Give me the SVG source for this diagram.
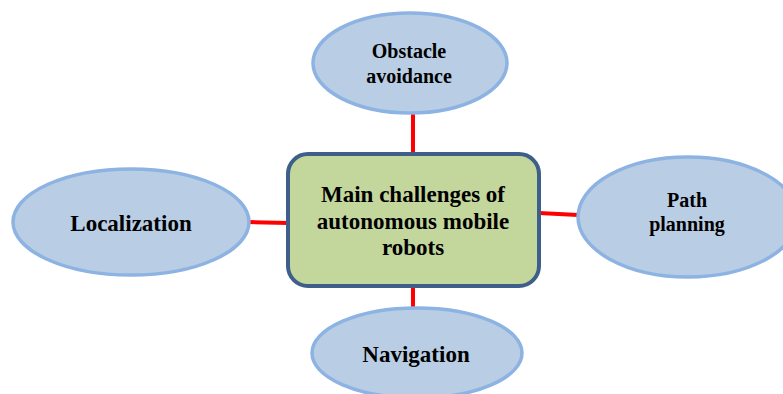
<svg xmlns="http://www.w3.org/2000/svg" width="783" height="394" viewBox="0 0 783 394">
<style>
.ell{fill:#b9cde5;stroke:#8db3e2;stroke-width:3.5}
.box{fill:#c3d69b;stroke:#3e5f8a;stroke-width:4}
.con{stroke:#ff0000;stroke-width:4;fill:none}
text{font-family:"Liberation Serif","Times New Roman",serif;font-weight:bold;fill:#000;text-anchor:middle}
.t20{font-size:20px}
.t23{font-size:23px}
</style>
<rect width="783" height="394" fill="#ffffff"/>
<g id="connectors">
<line class="con" x1="413" y1="114" x2="413" y2="154"/>
<line class="con" x1="413" y1="286" x2="413" y2="309"/>
<line class="con" x1="249" y1="222" x2="288" y2="223"/>
<line class="con" x1="539" y1="213" x2="578" y2="215"/>
</g>
<g id="center">
<rect class="box" x="288" y="154" width="251" height="132" rx="20" ry="20"/>
<text class="t23" x="413" y="202">Main challenges of</text>
<text class="t23" x="413" y="229">autonomous mobile</text>
<text class="t23" x="413" y="255">robots</text>
</g>
<g id="obstacle">
<ellipse class="ell" cx="410" cy="63" rx="97" ry="50"/>
<text class="t20" x="409" y="58">Obstacle</text>
<text class="t20" x="409" y="83">avoidance</text>
</g>
<g id="path">
<ellipse class="ell" cx="688" cy="217" rx="110" ry="60"/>
<text class="t20" x="687" y="207">Path</text>
<text class="t20" x="687" y="231">planning</text>
</g>
<g id="localization">
<ellipse class="ell" cx="131" cy="222" rx="118" ry="53"/>
<text class="t23" x="131" y="231">Localization</text>
</g>
<g id="navigation">
<ellipse class="ell" cx="417" cy="353" rx="105" ry="45"/>
<text class="t23" x="416" y="362">Navigation</text>
</g>
</svg>
